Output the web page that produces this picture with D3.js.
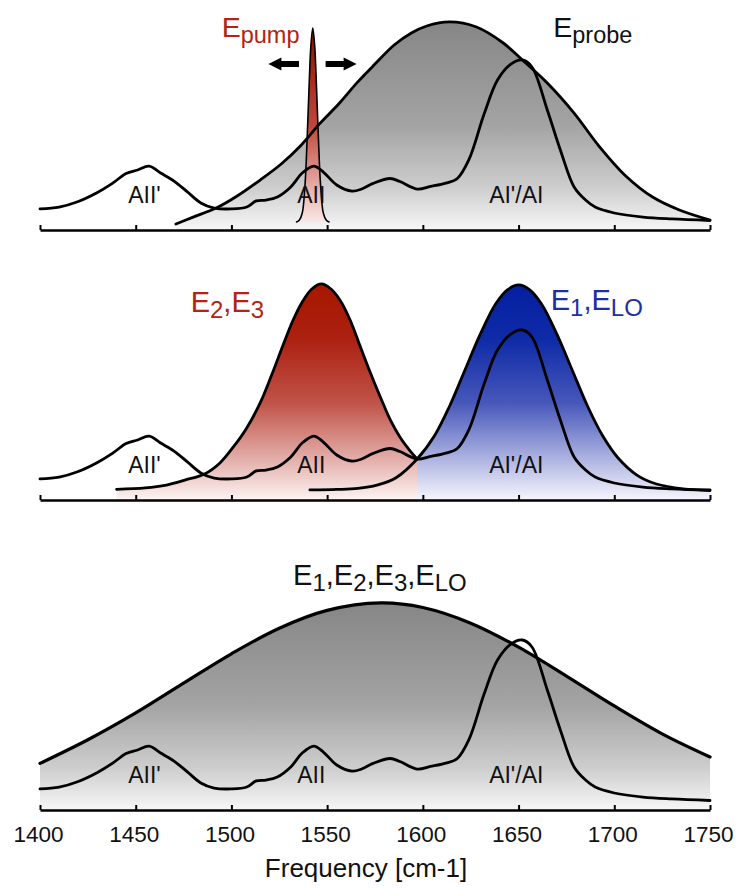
<!DOCTYPE html>
<html>
<head>
<meta charset="utf-8">
<script src="https://cdn.jsdelivr.net/npm/d3@7"></script>
<style>
  html, body { margin: 0; padding: 0; background: #fff; }
  svg { display: block; font-family: "Liberation Sans", Arial, Helvetica, sans-serif; }
</style>
</head>
<body>
<svg id="chart" width="736" height="888"></svg>
<script>
// ---- data -------------------------------------------------------------
// frequency ticks (cm-1)
const tickValues = [1400, 1450, 1500, 1550, 1600, 1650, 1700, 1750];

// amide absorption spectrum, normalised to the amide I maximum
const specFreq = [1400, 1410, 1420, 1430, 1438, 1445, 1451, 1457, 1463, 1470, 1477, 1484, 1491,
  1500, 1508, 1513, 1518, 1524, 1531, 1537, 1543, 1548, 1555, 1563, 1568, 1574, 1583, 1588,
  1597, 1604, 1612, 1618, 1624, 1632, 1639, 1646, 1652, 1657, 1665, 1672, 1679, 1685, 1690,
  1700, 1715, 1730, 1750];
const specAbs = [0.124, 0.135, 0.168, 0.221, 0.276, 0.332, 0.353, 0.376, 0.335, 0.288, 0.224, 0.159, 0.129,
  0.124, 0.135, 0.171, 0.176, 0.194, 0.253, 0.335, 0.376, 0.341, 0.265, 0.229, 0.241, 0.274, 0.303, 0.285,
  0.241, 0.256, 0.276, 0.303, 0.412, 0.682, 0.882, 0.976, 1.000, 0.959, 0.706, 0.465, 0.253, 0.176, 0.135,
  0.100, 0.076, 0.065, 0.056];

// broadband probe field
const probeFreq = [1471, 1480, 1492, 1503, 1515, 1526, 1536, 1546, 1556, 1566, 1575, 1585, 1594,
  1602, 1614, 1628, 1642, 1652, 1665, 1679, 1692, 1706, 1720, 1734, 1750];
const probeAmp = [0.035, 0.076, 0.129, 0.200, 0.294, 0.388, 0.494, 0.624, 0.741, 0.871, 0.976, 1.088, 1.159,
  1.200, 1.224, 1.194, 1.100, 1.000, 0.865, 0.688, 0.494, 0.318, 0.194, 0.118, 0.059];

// narrowband pump field
const pumpFreq = [1534, 1535.5, 1537, 1538.5, 1539.5, 1540.5, 1541.5, 1542.5, 1543.5, 1544.5,
  1545.5, 1546.5, 1548, 1549.5, 1551];
const pumpAmp = [0.047, 0.059, 0.100, 0.276, 0.524, 0.824, 1.082, 1.188, 1.082, 0.824,
  0.524, 0.276, 0.100, 0.059, 0.047];

// E2,E3 fields
const e23Freq = [1440, 1455, 1466, 1476, 1486, 1494, 1501, 1508, 1515, 1521, 1527, 1532, 1537,
  1542, 1547, 1552, 1557, 1562, 1567, 1572, 1578, 1583, 1588, 1593, 1597];
const e23Amp = [0.063, 0.071, 0.088, 0.118, 0.153, 0.218, 0.312, 0.424, 0.571, 0.735, 0.912, 1.053, 1.165,
  1.241, 1.271, 1.241, 1.171, 1.059, 0.912, 0.765, 0.600, 0.471, 0.371, 0.294, 0.241];

// E1,ELO fields
const e1loFreq = [1541, 1555, 1566, 1576, 1586, 1597, 1606, 1614, 1622, 1630, 1638, 1644, 1650,
  1656, 1662, 1670, 1678, 1686, 1694, 1702, 1712, 1722, 1736, 1750];
const e1loAmp = [0.059, 0.062, 0.068, 0.087, 0.131, 0.241, 0.376, 0.553, 0.765, 0.976, 1.153, 1.235, 1.265,
  1.235, 1.153, 0.976, 0.765, 0.553, 0.376, 0.247, 0.145, 0.094, 0.066, 0.059];

// all four fields together
const allFreq = [1400, 1425, 1450, 1475, 1500, 1525, 1550, 1578, 1600, 1625, 1650, 1675, 1700, 1725, 1750];
const allAmp = [0.274, 0.413, 0.571, 0.746, 0.919, 1.069, 1.174, 1.218, 1.191, 1.099, 0.958, 0.788, 0.612, 0.448, 0.312];

// band assignments
const bandNames = ["AII'", "AII", "AI'/AI"];
const bandFreq = [1454.6, 1541.7, 1648.8];

// ---- layout -------------------------------------------------------------
const svg = d3.select("#chart");
const defs = svg.append("defs");
const x = d3.scaleLinear().domain([1400, 1750]).range([40, 710]);
const unitPx = 170;              // pixel height of one normalised unit
const panelAxisY = [230, 500, 810];
const curve = d3.curveCatmullRom.alpha(0.5);
const zip = (f, a) => f.map((v, i) => [v, a[i]]);
const LW = 2.8;                  // curve stroke width

const RED = "#b3230f", BLUE = "#1c2ea8";

function gradient(id, stops) {
  const g = defs.append("linearGradient").attr("id", id)
    .attr("x1", 0).attr("y1", 0).attr("x2", 0).attr("y2", 1);
  stops.forEach(([o, c]) => g.append("stop").attr("offset", o).attr("stop-color", c));
}
gradient("gGray", [[0, "#868686"], [0.5, "#a4a4a4"], [0.8, "#cecece"], [1, "#f7f7f7"]]);
gradient("gRed", [[0, "#a81700"], [0.25, "#ab2010"], [0.55, "#c05348"], [0.8, "#e2aaa5"], [1, "#fcf4f3"]]);
gradient("gBlue", [[0, "#0420a2"], [0.25, "#0e2aa6"], [0.55, "#4858ba"], [0.8, "#aab0e0"], [1, "#f6f6fc"]]);
gradient("gPump", [[0, "#8e0e00"], [0.5, "#c0463a"], [1, "#fae8e6"]]);

function makeY(axisY) {
  return d3.scaleLinear().domain([0, 1]).range([axisY, axisY - unitPx]);
}
function lineGen(y) {
  return d3.line().x(d => x(d[0])).y(d => y(d[1])).curve(curve);
}
function areaGen(y, base) {
  return d3.area().x(d => x(d[0])).y0(y(base || 0)).y1(d => y(d[1])).curve(curve);
}

function drawArea(g, y, data, fill, base) {
  g.append("path").datum(data).attr("d", areaGen(y, base)).attr("fill", fill).attr("stroke", "none");
}
function drawLine(g, y, data, width) {
  g.append("path").datum(data).attr("d", lineGen(y))
    .attr("fill", "none").attr("stroke", "#000").attr("stroke-width", width)
    .attr("stroke-linejoin", "round").attr("stroke-linecap", "round");
}
function drawBandLabels(g, y) {
  g.selectAll("text.band").data(bandNames).join("text").attr("class", "band")
    .attr("x", (d, i) => x(bandFreq[i])).attr("y", y(0.16))
    .attr("text-anchor", "middle").attr("font-size", 23).attr("fill", "#111").text(d => d);
}
// field name with subscripts, e.g. [["E","1"],["E","LO"]] -> E1,ELO
function fieldLabel(g, px, py, parts, color, big, small) {
  const t = g.append("text").attr("x", px).attr("y", py).attr("fill", color);
  const shift = 6;
  parts.forEach((p, i) => {
    const first = t.append("tspan").attr("font-size", big).text((i > 0 ? "," : "") + p[0]);
    if (i > 0) first.attr("dy", -shift);
    t.append("tspan").attr("font-size", small).attr("dy", shift).text(p[1]);
  });
}
function drawAxis(g, axisY, labelled) {
  const axis = d3.axisBottom(x).tickValues(tickValues).tickSize(-5).tickSizeOuter(0)
    .tickPadding(16).tickFormat(labelled ? d3.format("d") : "");
  const a = g.append("g").attr("transform", `translate(0,${axisY})`).call(axis);
  a.select(".domain").attr("stroke", "#000").attr("stroke-width", 2.5);
  a.selectAll(".tick line").attr("stroke", "#000").attr("stroke-width", 2);
  a.selectAll(".tick text").attr("font-size", 22.5).attr("fill", "#111")
    .attr("font-family", "\"Liberation Sans\", Arial, sans-serif").attr("dx", -2);
}

const spectrum = zip(specFreq, specAbs);

// ---- panel 1: pump and probe ----------------------------------------------
{
  const g = svg.append("g");
  const y = makeY(panelAxisY[0]);
  const probe = zip(probeFreq, probeAmp);
  const pump = zip(pumpFreq, pumpAmp);
  drawArea(g, y, probe, "url(#gGray)");
  drawArea(g, y, pump, "url(#gPump)", d3.min(pumpAmp));
  drawLine(g, y, probe, LW);
  drawLine(g, y, pump, 1.6);
  drawLine(g, y, spectrum, LW);
  drawBandLabels(g, y);

  // tuning arrows either side of the pump
  const arrowLevel = 0.976;
  const arrows = [[1535.3, 1519.3], [1549.2, 1565.4]];
  arrows.forEach(([from, to]) => {
    const xs = x(from), xt = x(to), yc = y(arrowLevel);
    const dir = Math.sign(xt - xs);
    const hl = 13, hh = 6.5, sh = 3;
    const xb = xt - dir * hl;
    g.append("path")
      .attr("d", `M${xt},${yc}L${xb},${yc - hh}L${xb},${yc - sh}L${xs},${yc - sh}L${xs},${yc + sh}L${xb},${yc + sh}L${xb},${yc + hh}Z`)
      .attr("fill", "#000");
  });

  fieldLabel(g, x(1494.9), y(1.137), [["E", "pump"]], RED, 28.5, 23.5);
  fieldLabel(g, x(1668.1), y(1.137), [["E", "probe"]], "#111", 28.5, 23.5);
  drawAxis(g, panelAxisY[0], false);
}

// ---- panel 2: separated field pairs ---------------------------------------
{
  const g = svg.append("g");
  const y = makeY(panelAxisY[1]);
  const e23 = zip(e23Freq, e23Amp);
  const e1lo = zip(e1loFreq, e1loAmp);
  drawArea(g, y, e1lo, "url(#gBlue)");
  drawArea(g, y, e23, "url(#gRed)");
  drawLine(g, y, e23, LW);
  drawLine(g, y, e1lo, LW);
  drawLine(g, y, spectrum, LW);
  drawBandLabels(g, y);
  fieldLabel(g, x(1478.7), y(1.108), [["E", "2"], ["E", "3"]], RED, 29, 24);
  fieldLabel(g, x(1666.8), y(1.118), [["E", "1"], ["E", "LO"]], BLUE, 29, 24);
  drawAxis(g, panelAxisY[1], false);
}

// ---- panel 3: all fields --------------------------------------------------
{
  const g = svg.append("g");
  const y = makeY(panelAxisY[2]);
  const all = zip(allFreq, allAmp);
  drawArea(g, y, all, "url(#gGray)");
  drawLine(g, y, all, 3.2);
  drawLine(g, y, spectrum, LW);
  drawBandLabels(g, y);
  fieldLabel(g, x(1532.2), y(1.324), [["E", "1"], ["E", "2"], ["E", "3"], ["E", "LO"]], "#111", 29, 24);
  drawAxis(g, panelAxisY[2], true);

  svg.append("text").attr("x", 366).attr("y", 877).attr("text-anchor", "middle")
    .attr("font-size", 26).attr("fill", "#111").text("Frequency [cm-1]");
}
</script>
</body>
</html>
